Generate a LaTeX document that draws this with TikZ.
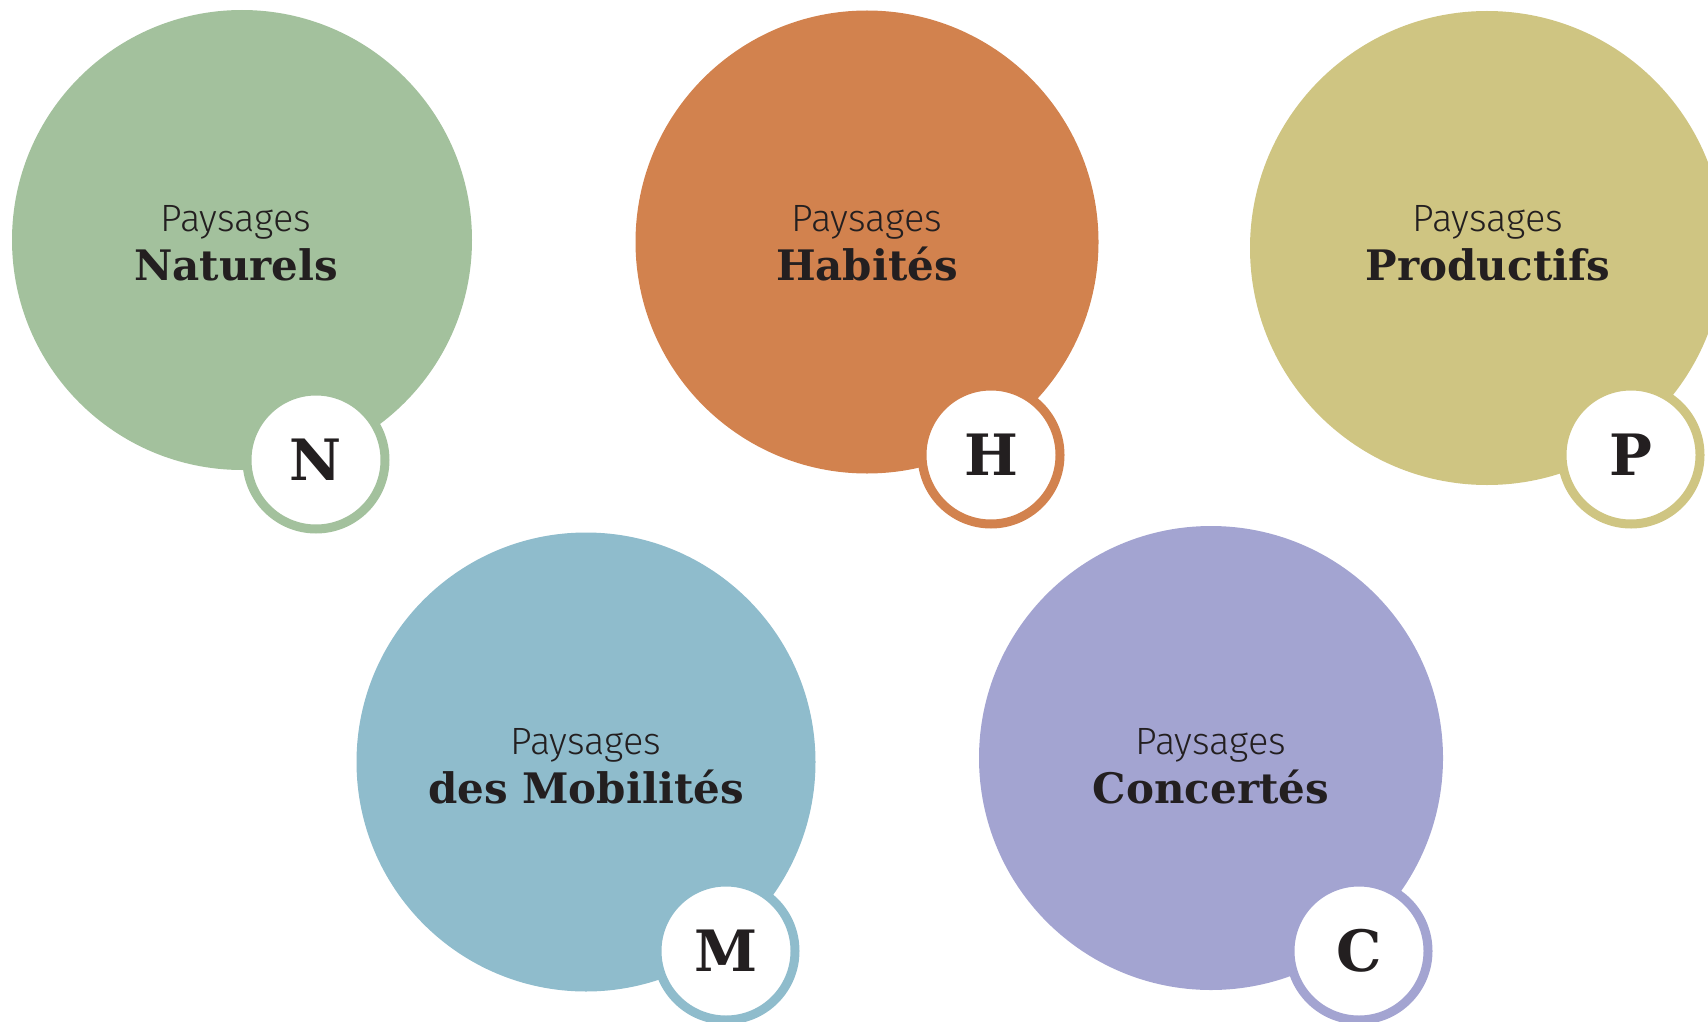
\documentclass[tikz,border=0pt]{standalone}
\usepackage{fontspec}
\newfontfamily\lightf{Fira Sans Light}
\newfontfamily\boldf{DejaVu Serif}
\definecolor{cN}{HTML}{A3C19D}
\definecolor{cH}{HTML}{D2824E}
\definecolor{cP}{HTML}{CFC582}
\definecolor{cM}{HTML}{8FBCCC}
\definecolor{cC}{HTML}{A3A4D1}
\definecolor{ink}{HTML}{231F20}
\tikzset{
  bigc/.style={circle, inner sep=0pt, draw=none},
  badge/.style={circle, inner sep=0pt, fill=white, line width=9pt, minimum size=138pt,
     text=ink, font=\boldf\bfseries\fontsize{57}{57}\selectfont},
  lbl/.style={anchor=base, inner sep=0pt, text=ink, font=\lightf\fontsize{38}{38}\selectfont},
  ttl/.style={anchor=base, inner sep=0pt, text=ink, font=\boldf\bfseries\fontsize{42}{42}\selectfont},
}
\begin{document}
\begin{tikzpicture}[x=1pt,y=-1pt]
\useasboundingbox (0,0) rectangle (1708,1022);
\begin{scope}
\clip (0,0) rectangle (1708,1022);
% big circles
\node[bigc, fill=cN, minimum size=460pt] (N) at (242,240) {};
\node[bigc, fill=cH, minimum size=463pt] (H) at (867,242) {};
\node[bigc, fill=cP, minimum size=474pt] (P) at (1487,248) {};
\node[bigc, fill=cM, minimum size=459pt] (M) at (586,762) {};
\node[bigc, fill=cC, minimum size=464pt] (C) at (1211,758) {};
% titles
\node[lbl] (Nl) at (236,231) {Paysages};
\node[ttl] (Nt) at (236,280) {Naturels};
\node[lbl] (Hl) at (867,231) {Paysages};
\node[ttl] (Ht) at (867,280) {Habités};
\node[lbl] (Pl) at (1488,231) {Paysages};
\node[ttl] (Pt) at (1488,280) {Productifs};
\node[lbl] (Ml) at (586,754) {Paysages};
\node[ttl] (Mt) at (586,803) {des Mobilités};
\node[lbl] (Cl) at (1211,754) {Paysages};
\node[ttl] (Ct) at (1211,803) {Concertés};
% badges
\node[badge, draw=cN] (bN) at (316,460) {N};
\node[badge, draw=cH] (bH) at (991,455) {H};
\node[badge, draw=cP] (bP) at (1631,455) {P};
\node[badge, draw=cM] (bM) at (726,951) {M};
\node[badge, draw=cC] (bC) at (1359,951) {C};
\end{scope}
\end{tikzpicture}
\end{document}
